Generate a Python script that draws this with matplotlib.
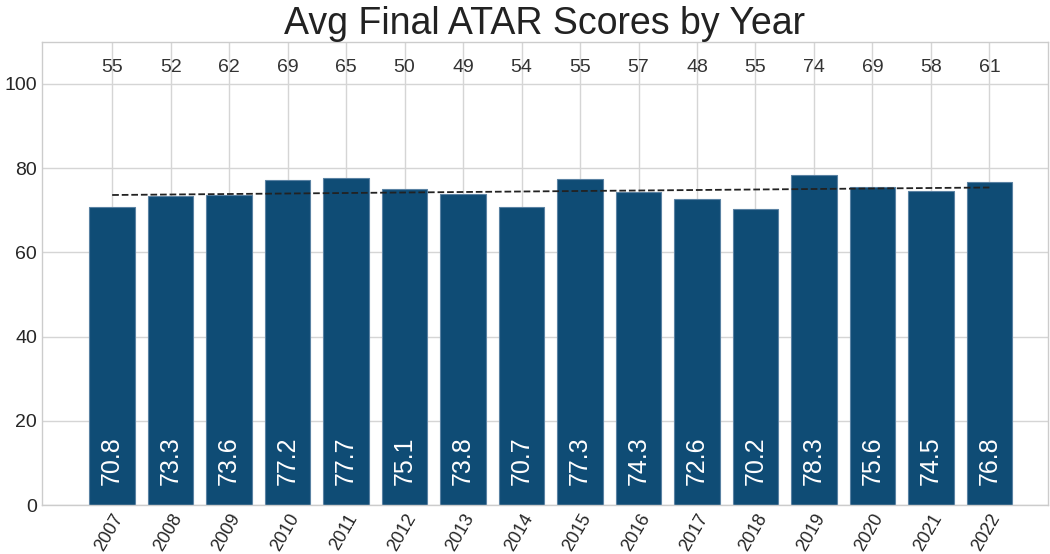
import matplotlib
matplotlib.use("Agg")
import matplotlib.pyplot as plt
import numpy as np

years = [2007, 2008, 2009, 2010, 2011, 2012, 2013, 2014, 2015, 2016, 2017, 2018, 2019, 2020, 2021, 2022]
avg_atar = [70.8, 73.3, 73.6, 77.2, 77.7, 75.1, 73.8, 70.7, 77.3, 74.3, 72.6, 70.2, 78.3, 75.6, 74.5, 76.8]
counts = [55, 52, 62, 69, 65, 50, 49, 54, 55, 57, 48, 55, 74, 69, 58, 61]

plt.style.use("seaborn-v0_8-whitegrid")
fig, ax = plt.subplots(figsize=(10.5, 5.54), dpi=100)
fig.subplots_adjust(left=0.04, right=0.998, top=0.925, bottom=0.088)

x = np.array(years)
bars = ax.bar(x, avg_atar, width=0.78, color="#0f4c75", edgecolor="#5a82a3", linewidth=0.8, zorder=2)

for xi, v in zip(x, avg_atar):
    ax.text(xi, 4.8, f"{v}", rotation=90, ha="center", va="bottom", color="white", fontsize=18, zorder=3)

for xi, c in zip(x, counts):
    ax.text(xi, 101.8, f"{c}", ha="center", va="bottom", color="#333333", fontsize=14)

coef = np.polyfit(x, avg_atar, 1)
ax.plot(x, np.polyval(coef, x), linestyle="--", color="#222222", linewidth=1.3, zorder=4)

ax.set_ylim(0, 110)
ax.set_xlim(2005.8, 2023.0)
ax.set_xticks(x)
ax.set_xticklabels([str(y) for y in years], rotation=60, ha="right", rotation_mode="anchor", fontsize=13)
ax.tick_params(axis="x", pad=4)
ax.set_yticks([0, 20, 40, 60, 80, 100])
ax.tick_params(axis="y", labelsize=14)
ax.set_title("Avg Final ATAR Scores by Year", fontsize=27, color="#222222", pad=3)

for s in ax.spines.values():
    s.set_visible(True)
    s.set_color("#cccccc")
ax.grid(True, color="#d5d5d5", linewidth=1)
ax.set_axisbelow(True)

fig.savefig("out.png", dpi=100)
